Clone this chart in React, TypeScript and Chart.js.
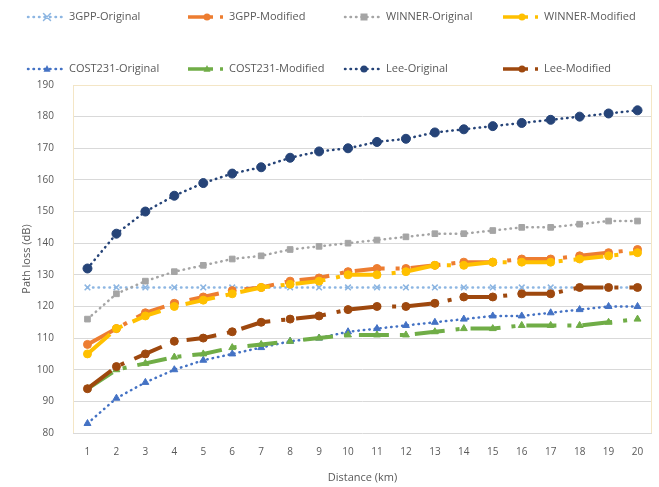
import React, { useEffect, useRef } from 'react';
import { Chart, registerables } from 'chart.js';

Chart.register(...registerables);

// ---------- data ----------
const distances = ['1', '2', '3', '4', '5', '6', '7', '8', '9', '10', '11', '12', '13', '14', '15', '16', '17', '18', '19', '20'];

const gppOriginal = [126, 126, 126, 126, 126, 126, 126, 126, 126, 126, 126, 126, 126, 126, 126, 126, 126, 126, 126, 126];
const gppModified = [108, 113, 118, 121, 123, 125, 126, 128, 129, 131, 132, 132, 133, 134, 134, 135, 135, 136, 137, 138];
const winnerOriginal = [116, 124, 128, 131, 133, 135, 136, 138, 139, 140, 141, 142, 143, 143, 144, 145, 145, 146, 147, 147];
const winnerModified = [105, 113, 117, 120, 122, 124, 126, 127, 128, 130, 130, 131, 133, 133, 134, 134, 134, 135, 136, 137];
const costOriginal = [83, 91, 96, 100, 103, 105, 107, 109, 110, 112, 113, 114, 115, 116, 117, 117, 118, 119, 120, 120];
const costModified = [94, 100, 102, 104, 105, 107, 108, 109, 110, 111, 111, 111, 112, 113, 113, 114, 114, 114, 115, 116];
const leeOriginal = [132, 143, 150, 155, 159, 162, 164, 167, 169, 170, 172, 173, 175, 176, 177, 178, 179, 180, 181, 182];
const leeModified = [94, 101, 105, 109, 110, 112, 115, 116, 117, 119, 120, 120, 121, 123, 123, 124, 124, 126, 126, 126];

const seriesNames = ['3GPP-Original', '3GPP-Modified', 'WINNER-Original', 'WINNER-Modified', 'COST231-Original', 'COST231-Modified', 'Lee-Original', 'Lee-Modified'];
const seriesValues = [gppOriginal, gppModified, winnerOriginal, winnerModified, costOriginal, costModified, leeOriginal, leeModified];

const yMin = 80;
const yMax = 190;
const yStep = 10;
const xTitle = 'Distance (km)';
const yTitle = 'Path loss (dB)';

// ---------- styles ----------
const seriesColors = ['#8DB6E2', '#ED7D31', '#A5A5A5', '#FFC000', '#4472C4', '#70AD47', '#264478', '#9E480E'];
const seriesMarkers = ['crossRot', 'circle', 'rect', 'circle', 'triangle', 'triangle', 'circle', 'circle'];
const isOriginal = [true, false, true, false, true, false, true, false];
const DOT_DASH = [0.5, 5];
const PLOT_LONG_DASH_DOT = [30, 11, 4, 11];
const LEGEND_LONG_DASH_DOT = [25, 7, 3, 7];
const TEXT_COLOR = '#595959';
const FONT = "'Open Sans', 'Noto Sans', sans-serif";

const legendColX = [28, 188, 345, 503];
const legendRowY = [17, 69];

function drawMarker(ctx: CanvasRenderingContext2D, style: string, x: number, y: number, r: number, color: string) {
  ctx.save();
  ctx.setLineDash([]);
  ctx.fillStyle = color;
  ctx.strokeStyle = color;
  ctx.lineWidth = 1.5;
  ctx.beginPath();
  if (style === 'circle') {
    ctx.arc(x, y, r, 0, Math.PI * 2);
    ctx.fill();
  } else if (style === 'rect') {
    ctx.fillRect(x - r, y - r, r * 2, r * 2);
  } else if (style === 'triangle') {
    ctx.moveTo(x, y - r * 1.15);
    ctx.lineTo(x + r, y + r * 0.75);
    ctx.lineTo(x - r, y + r * 0.75);
    ctx.closePath();
    ctx.fill();
  } else if (style === 'crossRot') {
    ctx.moveTo(x - r, y - r);
    ctx.lineTo(x + r, y + r);
    ctx.moveTo(x + r, y - r);
    ctx.lineTo(x - r, y + r);
    ctx.stroke();
  }
  ctx.restore();
}

const legendPlugin = {
  id: 'customLegend',
  afterDraw(chart: any) {
    const ctx: CanvasRenderingContext2D = chart.ctx;
    ctx.save();
    seriesNames.forEach((name, i) => {
      const x0 = legendColX[i % 4];
      const y = legendRowY[Math.floor(i / 4)];
      const color = seriesColors[i];
      ctx.beginPath();
      ctx.strokeStyle = color;
      if (isOriginal[i]) {
        ctx.lineWidth = 2.5;
        ctx.lineCap = 'round';
        ctx.setLineDash(DOT_DASH);
      } else {
        ctx.lineWidth = 3.5;
        ctx.lineCap = 'butt';
        ctx.setLineDash(LEGEND_LONG_DASH_DOT);
      }
      ctx.moveTo(x0, y);
      ctx.lineTo(x0 + 38, y);
      ctx.stroke();
      drawMarker(ctx, seriesMarkers[i], x0 + 19, y, 3.5, color);
      ctx.setLineDash([]);
      ctx.fillStyle = TEXT_COLOR;
      ctx.font = `11px ${FONT}`;
      ctx.textBaseline = 'middle';
      ctx.textAlign = 'left';
      ctx.fillText(name, x0 + 41, y);
    });
    ctx.restore();
  },
};

const borderPlugin = {
  id: 'plotBorder',
  beforeDatasetsDraw(chart: any) {
    const { ctx, chartArea } = chart;
    ctx.save();
    ctx.strokeStyle = '#F4E6C6';
    ctx.lineWidth = 1;
    ctx.beginPath();
    ctx.moveTo(chartArea.left + 0.5, chartArea.bottom);
    ctx.lineTo(chartArea.left + 0.5, chartArea.top + 0.5);
    ctx.lineTo(chartArea.right - 0.5, chartArea.top + 0.5);
    ctx.lineTo(chartArea.right - 0.5, chartArea.bottom);
    ctx.stroke();
    ctx.restore();
  },
};

export default function App() {
  const canvasRef = useRef<HTMLCanvasElement | null>(null);

  useEffect(() => {
    if (!canvasRef.current) return;
    const datasets = seriesNames.map((name, i) => ({
      label: name,
      data: seriesValues[i],
      borderColor: seriesColors[i],
      backgroundColor: seriesColors[i],
      pointBackgroundColor: seriesColors[i],
      pointBorderColor: seriesColors[i],
      pointStyle: seriesMarkers[i],
      pointRadius: seriesMarkers[i] === 'crossRot' ? 4 : (i === 6 ? 4.5 : 4),
      pointBorderWidth: seriesMarkers[i] === 'crossRot' ? 1.5 : 1,
      borderWidth: isOriginal[i] ? 2.5 : 4,
      borderDash: isOriginal[i] ? DOT_DASH : PLOT_LONG_DASH_DOT,
      borderCapStyle: isOriginal[i] ? 'round' : 'butt',
      tension: 0,
      fill: false,
      order: seriesNames.length - i,
    }));

    const chart = new Chart(canvasRef.current, {
      type: 'line',
      data: { labels: distances, datasets: datasets as any },
      options: {
        animation: false,
        responsive: true,
        maintainAspectRatio: false,
        layout: { padding: { left: 0, right: 7, top: 85, bottom: 0 } },
        plugins: {
          legend: { display: false },
          tooltip: { enabled: false },
        },
        font: { family: FONT },
        scales: {
          x: {
            type: 'category',
            offset: true,
            grid: { display: false, drawTicks: false },
            border: { display: false },
            ticks: { color: TEXT_COLOR, font: { size: 10, family: FONT }, padding: 13, maxRotation: 0, autoSkip: false },
            title: { display: true, text: xTitle, color: TEXT_COLOR, font: { size: 11, family: FONT }, padding: { top: 0, bottom: 3 } },
            afterFit: (scale: any) => { scale.height = 54; },
          },
          y: {
            min: yMin,
            max: yMax,
            grid: { color: '#D9D9D9', lineWidth: 1, drawTicks: false },
            border: { display: false },
            ticks: { stepSize: yStep, color: TEXT_COLOR, font: { size: 10, family: FONT }, padding: 19 },
            title: { display: true, text: yTitle, color: TEXT_COLOR, font: { size: 11, family: FONT }, padding: { top: 20, bottom: 0 } },
            afterFit: (scale: any) => { scale.width = 73; },
          },
        },
      } as any,
      plugins: [borderPlugin, legendPlugin],
    });
    return () => chart.destroy();
  }, []);

  return (
    <div style={{ position: 'absolute', left: 0, top: 0, width: 659, height: 487, background: '#ffffff' }}>
      <canvas ref={canvasRef} />
    </div>
  );
}
